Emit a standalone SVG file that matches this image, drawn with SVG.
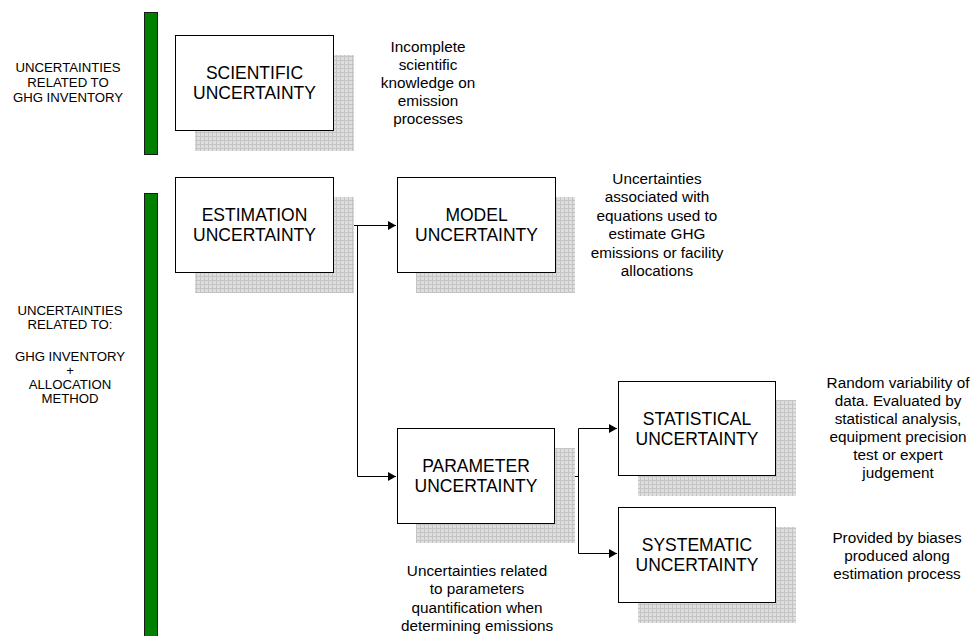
<svg xmlns="http://www.w3.org/2000/svg" width="973" height="636" viewBox="0 0 973 636">
  <style>
    text { font-family: "Liberation Sans", Arial, sans-serif; fill: #000; text-anchor: middle; }
    .box { fill: #fff; stroke: #000; stroke-width: 1; }
    .shadow { fill: url(#grid); }
    .title { font-size: 17.5px; }
    .desc { font-size: 15.3px; }
    .side { font-size: 13.2px; }
    .bar { fill: #008000; stroke: #1a1a1a; stroke-width: 1; }
    .link { fill: none; stroke: #000; stroke-width: 1; }
  </style>
  <defs>
    <pattern id="grid" width="4" height="4" patternUnits="userSpaceOnUse">
      <rect width="4" height="4" fill="#dedede"/>
      <path d="M0 0.5H4M0.5 0V4" stroke="#c4c4c4" stroke-width="1"/>
    </pattern>
    <marker id="arrow" markerUnits="userSpaceOnUse" markerWidth="9" markerHeight="9" refX="8" refY="4.5" orient="auto">
      <path d="M0 0L8 4.5L0 9z" fill="#000"/>
    </marker>
  </defs>

  <rect width="973" height="636" fill="#fff"/>

  <!-- side bands -->
  <g id="band-inventory">
    <rect class="bar" x="144.5" y="12.5" width="13" height="142"/>
    <text class="side" x="68" y="71.5">UNCERTAINTIES</text>
    <text class="side" x="68" y="86.5">RELATED TO</text>
    <text class="side" x="68" y="101.5">GHG INVENTORY</text>
  </g>
  <g id="band-allocation">
    <rect class="bar" x="144.5" y="193.5" width="13" height="450"/>
    <text class="side" x="70" y="314.7">UNCERTAINTIES</text>
    <text class="side" x="70" y="328.7">RELATED TO:</text>
    <text class="side" x="70" y="360.7">GHG INVENTORY</text>
    <text class="side" x="70" y="374.7">+</text>
    <text class="side" x="70" y="388.7">ALLOCATION</text>
    <text class="side" x="70" y="402.7">METHOD</text>
  </g>

  <!-- connectors -->
  <g id="connectors">
    <path class="link" d="M333 225.5H396" marker-end="url(#arrow)"/>
    <path class="link" d="M357.5 225.5V476.5H396" marker-end="url(#arrow)"/>
    <path class="link" d="M554 476.5H578.5"/>
    <path class="link" d="M578.5 428.5V553.5"/>
    <path class="link" d="M578.5 428.5H617" marker-end="url(#arrow)"/>
    <path class="link" d="M578.5 553.5H617" marker-end="url(#arrow)"/>
  </g>

  <g id="scientific">
    <rect class="shadow" x="195" y="55" width="159" height="96"/>
    <rect class="box" x="175.5" y="35.5" width="158" height="95"/>
    <text class="title" x="254.5" y="79">SCIENTIFIC</text>
    <text class="title" x="254.5" y="99">UNCERTAINTY</text>
    <text class="desc" x="428" y="51.5">Incomplete</text>
    <text class="desc" x="428" y="69.5">scientific</text>
    <text class="desc" x="428" y="87.5">knowledge on</text>
    <text class="desc" x="428" y="105.5">emission</text>
    <text class="desc" x="428" y="123.5">processes</text>
  </g>

  <g id="estimation">
    <rect class="shadow" x="195" y="197" width="159" height="96"/>
    <rect class="box" x="175.5" y="177.5" width="158" height="95"/>
    <text class="title" x="254.5" y="221">ESTIMATION</text>
    <text class="title" x="254.5" y="241">UNCERTAINTY</text>
  </g>

  <g id="model">
    <rect class="shadow" x="416" y="197" width="159" height="96"/>
    <rect class="box" x="397.5" y="177.5" width="158" height="95"/>
    <text class="title" x="476.5" y="221">MODEL</text>
    <text class="title" x="476.5" y="241">UNCERTAINTY</text>
    <text class="desc" x="657" y="183.5">Uncertainties</text>
    <text class="desc" x="657" y="202">associated with</text>
    <text class="desc" x="657" y="220.5">equations used to</text>
    <text class="desc" x="657" y="239">estimate GHG</text>
    <text class="desc" x="657" y="257.5">emissions or facility</text>
    <text class="desc" x="657" y="276">allocations</text>
  </g>

  <g id="parameter">
    <rect class="shadow" x="416" y="448" width="159" height="95"/>
    <rect class="box" x="397.5" y="428.5" width="157" height="95"/>
    <text class="title" x="476" y="472">PARAMETER</text>
    <text class="title" x="476" y="492">UNCERTAINTY</text>
    <text class="desc" x="477" y="575.5">Uncertainties related</text>
    <text class="desc" x="477" y="594">to parameters</text>
    <text class="desc" x="477" y="612.5">quantification when</text>
    <text class="desc" x="477" y="631">determining emissions</text>
  </g>

  <g id="statistical">
    <rect class="shadow" x="638" y="400" width="158" height="96"/>
    <rect class="box" x="618.5" y="381.5" width="157" height="94"/>
    <text class="title" x="697" y="425">STATISTICAL</text>
    <text class="title" x="697" y="445">UNCERTAINTY</text>
    <text class="desc" x="898" y="387.5">Random variability of</text>
    <text class="desc" x="898" y="405.5">data. Evaluated by</text>
    <text class="desc" x="898" y="423.5">statistical analysis,</text>
    <text class="desc" x="898" y="441.5">equipment precision</text>
    <text class="desc" x="898" y="459.5">test or expert</text>
    <text class="desc" x="898" y="477.5">judgement</text>
  </g>

  <g id="systematic">
    <rect class="shadow" x="638" y="527" width="158" height="96"/>
    <rect class="box" x="618.5" y="507.5" width="157" height="95"/>
    <text class="title" x="697" y="551">SYSTEMATIC</text>
    <text class="title" x="697" y="571">UNCERTAINTY</text>
    <text class="desc" x="897" y="542.5">Provided by biases</text>
    <text class="desc" x="897" y="560.5">produced along</text>
    <text class="desc" x="897" y="578.5">estimation process</text>
  </g>
</svg>
